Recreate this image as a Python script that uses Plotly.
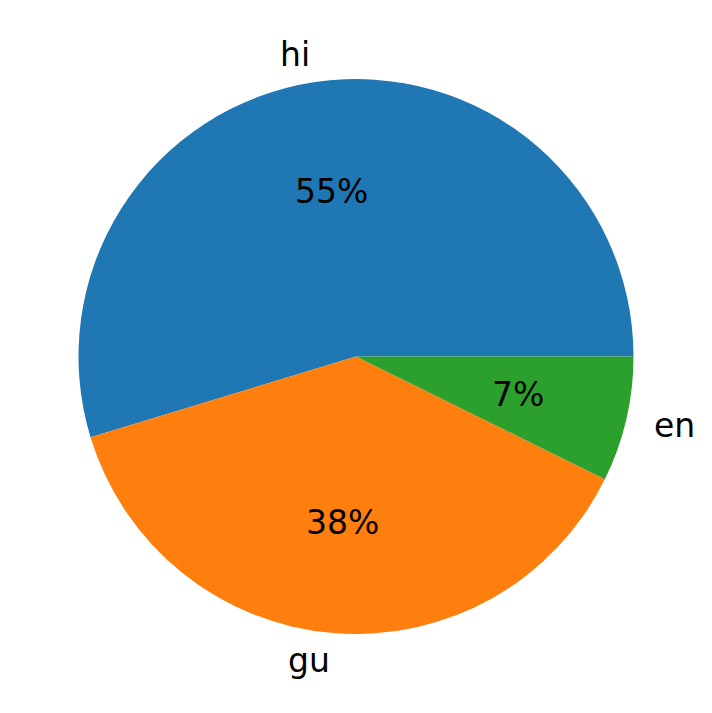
import math
import plotly.graph_objects as go

labels = ["hi", "gu", "en"]
values = [54.7, 38.0, 7.3]
colors = ["#1f77b4", "#ff7f0e", "#2ca02c"]

W, H = 712, 713
cx_px, cy_px = 356, 356.5  # pie centre (from top-left)
r_px = 277.5
font_px = 33

total = sum(values)
# matplotlib-style: first wedge starts at 3 o'clock, going counterclockwise.
# plotly (counterclockwise) keeps the first slice clockwise from `rotation`,
# so shift rotation back by the first slice's angle.
rotation = 90 - 360 * values[0] / total

fig = go.Figure(go.Pie(
    labels=labels,
    values=values,
    sort=False,
    direction="counterclockwise",
    rotation=rotation,
    marker=dict(colors=colors, line=dict(width=0)),
    textinfo="none",
    hoverinfo="label+percent",
    showlegend=False,
    domain=dict(
        x=[(cx_px - r_px) / W, (cx_px + r_px) / W],
        y=[(H - cy_px - r_px) / H, (H - cy_px + r_px) / H],
    ),
))

start = 0.0
annotations = []
for lab, v in zip(labels, values):
    frac = v / total
    mid = math.radians((start + frac / 2) * 360)
    start += frac
    c, s = math.cos(mid), math.sin(mid)
    # outer label (labeldistance 1.1)
    lx = cx_px + 1.1 * r_px * c
    ly = cy_px - 1.1 * r_px * s
    annotations.append(dict(
        x=lx / W, y=1 - ly / H, xref="paper", yref="paper",
        text=lab, showarrow=False, borderpad=0,
        xanchor="left" if c > 0 else "right", yanchor="middle",
        font=dict(family="DejaVu Sans", size=font_px, color="black"),
    ))
    # percentage (pctdistance 0.6)
    px = cx_px + 0.6 * r_px * c
    py = cy_px - 0.6 * r_px * s
    annotations.append(dict(
        x=px / W, y=1 - py / H, xref="paper", yref="paper",
        text=f"{round(frac * 100):.0f}%", showarrow=False, borderpad=0,
        xanchor="center", yanchor="middle",
        font=dict(family="DejaVu Sans", size=font_px, color="black"),
    ))

fig.update_layout(
    width=W, height=H,
    margin=dict(l=0, r=0, t=0, b=0),
    paper_bgcolor="white",
    plot_bgcolor="white",
    annotations=annotations,
)

fig.write_html(
    "out.html",
    config={"displayModeBar": False},
    post_script="document.body.style.margin='0px';",
)
